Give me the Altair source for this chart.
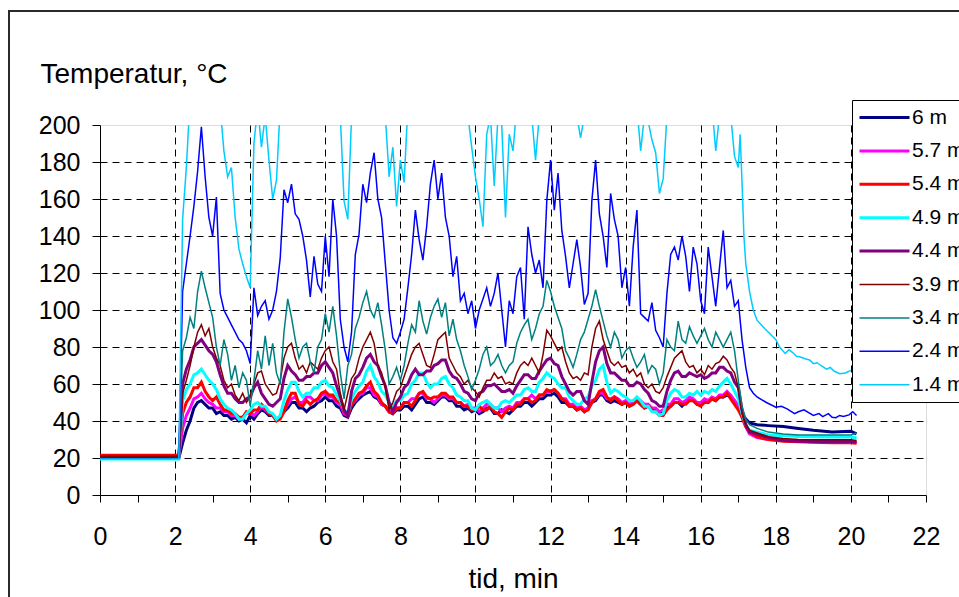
import altair as alt
import pandas as pd

# ---------------- series definitions ----------------
SERIES = ["6 m", "5.7 m", "5.4 m", "4.9 m", "4.4 m", "3.9 m", "3.4 m", "2.4 m", "1.4 m"]
COLORS = ["#000080", "#FF00FF", "#FF0000", "#00FFFF", "#800080", "#800000", "#008080", "#0000FF", "#00CCFF"]
WIDTHS = [3, 3, 3, 3, 3, 1.5, 1.5, 1.5, 1.5]

# flat start (t = 0 .. 2.1 min)
START_T = [0.0, 2.1]
FLAT = [20, 21, 21.5, 19.5, 20.5, 21, 20, 20, 19.5]

# ---- all series sampled every 0.1 min from 2.2 to 17.0 (one line per minute) ----
T6 = [28, 35, 40, 47, 50, 51, 49, 47,
      47, 44, 45, 43, 43, 41, 42, 40, 41, 39,
      43, 41, 44, 46, 45, 43, 43, 41, 42, 45,
      47, 50, 50, 47, 47, 45, 47, 48, 50, 51,
      53, 51, 51, 48, 47, 43, 42, 47, 50, 52,
      54, 55, 56, 53, 52, 49, 48, 45, 44, 46,
      46, 48, 48, 46, 49, 52, 53, 50, 50, 49,
      51, 53, 53, 51, 51, 48, 48, 46, 47, 45,
      46, 44, 45, 47, 47, 44, 44, 46, 45, 44,
      46, 48, 48, 50, 50, 48, 50, 52, 52, 54,
      54, 55, 53, 50, 50, 48, 48, 46, 47, 45,
      47, 50, 51, 54, 54, 51, 50, 51, 50, 49,
      50, 48, 49, 51, 49, 47, 48, 46, 46, 44,
      45, 47, 48, 50, 50, 48, 50, 52, 51, 49,
      49, 51, 50, 52, 51, 53, 53, 54, 53, 51,
      48]
T57 = [36, 43, 47, 52, 53, 55, 52, 50,
       49, 47, 47, 45, 45, 43, 43, 41, 42, 44,
       44, 43, 45, 48, 46, 44, 43, 41, 42, 46,
       49, 52, 53, 50, 50, 53, 53, 51, 51, 54,
       55, 53, 53, 50, 49, 44, 43, 49, 51, 54,
       55, 58, 58, 54, 53, 49, 48, 45, 45, 47,
       47, 50, 50, 52, 52, 55, 55, 52, 52, 50,
       52, 54, 54, 52, 52, 50, 50, 48, 49, 47,
       47, 45, 47, 49, 49, 47, 47, 45, 47, 48,
       47, 50, 50, 52, 52, 54, 52, 54, 54, 56,
       56, 57, 55, 52, 52, 49, 49, 47, 48, 46,
       47, 51, 52, 55, 55, 52, 52, 53, 52, 50,
       51, 49, 50, 52, 51, 49, 49, 47, 47, 45,
       46, 49, 49, 52, 52, 50, 51, 53, 52, 50,
       50, 52, 51, 53, 52, 54, 54, 56, 54, 51,
       48]
T54 = [44, 50, 53, 58, 58, 61, 56, 53,
       51, 53, 49, 46, 46, 44, 44, 42, 42, 45,
       44, 46, 46, 49, 47, 44, 43, 40, 41, 45,
       51, 55, 55, 49, 48, 51, 49, 51, 52, 55,
       56, 54, 54, 51, 50, 45, 43, 49, 52, 55,
       56, 59, 61, 56, 54, 50, 48, 45, 44, 47,
       47, 50, 50, 48, 51, 55, 56, 53, 52, 53,
       53, 55, 55, 53, 53, 50, 50, 48, 48, 46,
       46, 48, 46, 46, 48, 45, 44, 42, 45, 47,
       46, 49, 49, 52, 52, 50, 51, 54, 54, 57,
       56, 57, 55, 52, 51, 48, 48, 46, 47, 45,
       46, 50, 52, 56, 57, 53, 51, 53, 51, 49,
       50, 48, 49, 51, 49, 47, 48, 46, 45, 43,
       43, 46, 48, 50, 50, 49, 49, 51, 51, 49,
       48, 50, 50, 52, 51, 53, 53, 55, 52, 49,
       46]
T49 = [51, 57, 60, 65, 66, 68, 65, 62,
       60, 57, 52, 49, 47, 46, 44, 41, 41, 44,
       46, 49, 50, 48, 48, 45, 44, 41, 43, 51,
       57, 61, 61, 56, 53, 55, 55, 58, 58, 61,
       62, 59, 58, 54, 51, 46, 44, 52, 56, 59,
       61, 67, 70, 64, 61, 56, 54, 50, 48, 51,
       51, 54, 55, 60, 62, 66, 66, 61, 58, 60,
       60, 63, 64, 60, 58, 54, 53, 51, 51, 47,
       46, 49, 50, 51, 49, 47, 47, 50, 51, 50,
       52, 54, 54, 57, 58, 56, 56, 61, 63, 66,
       64, 63, 60, 58, 58, 53, 51, 49, 49, 52,
       53, 59, 62, 68, 70, 61, 55, 57, 56, 54,
       53, 51, 51, 53, 51, 48, 48, 45, 45, 43,
       44, 51, 55, 57, 56, 53, 53, 55, 54, 56,
       54, 56, 55, 57, 56, 59, 61, 63, 60, 56,
       52]
T44 = [60, 68, 73, 80, 82, 84, 81, 78,
       76, 72, 65, 59, 55, 55, 52, 50, 50, 52,
       53, 58, 61, 55, 52, 49, 48, 50, 52, 63,
       70, 67, 65, 62, 62, 64, 64, 66, 66, 70,
       72, 69, 66, 59, 53, 46, 43, 56, 63, 65,
       69, 74, 76, 72, 70, 64, 59, 50, 45, 50,
       53, 58, 60, 65, 68, 65, 65, 67, 67, 70,
       71, 73, 73, 67, 64, 63, 60, 56, 55, 52,
       51, 55, 56, 59, 59, 60, 58, 56, 56, 57,
       55, 59, 62, 65, 65, 63, 63, 67, 70, 73,
       74, 71, 70, 64, 60, 56, 54, 56, 56, 51,
       49, 61, 72, 78, 80, 71, 66, 66, 64, 62,
       62, 59, 59, 61, 60, 57, 55, 51, 50, 48,
       48, 56, 62, 66, 67, 64, 64, 66, 65, 64,
       65, 63, 64, 66, 66, 69, 69, 67, 66, 61,
       58]
T39 = [55, 62, 70, 80, 88, 92, 86, 90,
       80, 74, 70, 62, 58, 60, 54, 51, 55, 50,
       53, 60, 66, 67, 60, 57, 54, 55, 62, 74,
       80, 82, 74, 68, 70, 66, 72, 70, 68, 74,
       78, 80, 72, 68, 55, 46, 55, 63, 66, 74,
       80, 84, 88, 82, 70, 66, 58, 46, 50, 56,
       58, 64, 70, 76, 80, 82, 76, 70, 69, 76,
       84, 86, 88, 74, 70, 66, 64, 60, 62, 58,
       56, 53, 58, 62, 62, 66, 63, 64, 60, 61,
       60, 66, 70, 72, 70, 74, 70, 66, 76, 89,
       86, 82, 78, 80, 72, 66, 63, 64, 62, 66,
       65, 80, 90, 94, 84, 78, 72, 70, 72, 69,
       70, 66, 68, 64, 66, 60, 58, 60, 56, 55,
       58, 64, 69, 74, 76, 78, 72, 69, 70, 66,
       68, 65, 70, 68, 71, 72, 75, 73, 69, 66,
       58]
T34 = [78, 85, 96, 90, 110, 121, 112, 104,
       96, 80, 70, 84, 76, 62, 70, 58, 66, 62,
       48, 62, 78, 68, 86, 70, 82, 66, 60, 88,
       106, 96, 84, 74, 80, 82, 72, 66, 80, 84,
       98, 88, 102, 86, 66, 52, 70, 76, 90, 96,
       104, 110, 100, 96, 104, 92, 78, 60, 64, 69,
       62, 70, 82, 92, 88, 105, 94, 87, 96, 102,
       106, 96, 104, 86, 95, 84, 78, 70, 64, 57,
       62, 68, 76, 80, 70, 72, 76, 70, 66, 70,
       72, 82, 88, 92, 95, 84, 90, 98, 102, 116,
       110, 102, 96, 90, 78, 74, 69, 76, 84, 88,
       95, 102, 111, 102, 94, 86, 80, 88, 84, 74,
       78, 80, 74, 69, 72, 76, 66, 70, 68, 60,
       66, 84, 80, 78, 94, 84, 82, 91, 86, 82,
       86, 90, 84, 80, 88, 84, 80, 84, 88, 78,
       62]
T24 = [110, 125, 140, 156, 175, 199, 172, 150,
       140, 161, 109, 100, 96, 92, 88, 84, 82, 78,
       71, 112, 97, 102, 105, 95, 100, 110, 128, 165,
       158, 168, 152, 149, 140, 127, 107, 129, 114, 110,
       140, 118, 160, 140, 95, 80, 72, 88, 130, 141,
       168, 158, 174, 185, 160, 150, 125, 100, 85, 82,
       88, 95, 112, 130, 154, 138, 127, 145, 168, 181,
       160, 174, 150, 140, 118, 129, 105, 109, 98, 105,
       90, 100, 106, 112, 102, 109, 120, 100, 80, 105,
       98, 118, 123, 95, 145, 130, 120, 127, 112, 159,
       181, 154, 174, 143, 129, 112, 125, 138, 123, 103,
       109, 159, 181, 152, 140, 123, 163, 149, 140, 112,
       123, 102, 134, 154, 98, 96, 94, 104, 89, 85,
       80, 109, 130, 134, 127, 140, 129, 110, 134, 125,
       105, 98, 134, 118, 102, 123, 143, 112, 116, 102,
       105]
T14 = [149, 177, 215, 230, 240, 245, 240, 235,
       230, 222, 210, 186, 172, 177, 150, 133, 125, 118,
       112, 190, 210, 188, 205, 181, 160, 170, 210, 225,
       235, 240, 238, 235, 230, 232, 235, 230, 228, 225,
       230, 225, 222, 215, 205, 159, 149, 205, 215, 222,
       225, 225, 220, 218, 215, 210, 205, 172, 188, 156,
       181, 169, 210, 220, 225, 230, 230, 228, 225, 225,
       222, 220, 218, 220, 222, 220, 215, 208, 205, 188,
       172, 160, 145, 195, 205, 167, 205, 200, 150, 195,
       186, 210, 215, 212, 210, 205, 181, 205, 210, 212,
       215, 210, 212, 215, 212, 210, 212, 205, 193, 205,
       205, 210, 212, 215, 215, 212, 215, 218, 215, 212,
       210, 212, 208, 210, 186, 205, 202, 192, 185, 163,
       171, 205, 210, 215, 218, 215, 212, 215, 212, 210,
       208, 202, 205, 210, 186, 205, 210, 212, 205, 183,
       177]

# ---- cooling tails ----
TAIL_T = [17.1, 17.2, 17.3, 17.5, 17.8, 18.2, 18.6, 19.0, 19.5, 20.0, 20.15]
TAIL_6 = [44, 41, 39, 38, 37.5, 37, 36, 35, 34, 34.5, 33]
TAIL_57 = [42, 37, 33, 31, 30, 29.5, 29, 28.8, 28.6, 28.5, 28.5]
TAIL_54 = [42, 37, 34, 31.6, 30, 29, 28.8, 28.5, 28.3, 28.3, 28]
TAIL_49 = [44, 38, 35, 34, 32.5, 32, 31.6, 31.5, 31.3, 31.3, 31]
TAIL_44 = [46, 38, 34, 33, 31, 29.5, 29, 28.9, 28.9, 28.9, 28.5]
TAIL_39 = [44, 38, 35, 33.5, 31.5, 30.5, 30, 29.8, 29.8, 29.8, 29.5]
TAIL_34 = [48, 41, 38, 36, 34, 33, 32.5, 32.5, 32.5, 32.5, 33.5]
TAIL24_T = [17.1, 17.2, 17.3, 17.4, 17.5, 17.75, 18.0, 18.15, 18.3, 18.5, 18.6, 18.75,
            19.0, 19.15, 19.25, 19.4, 19.5, 19.6, 19.7, 19.8, 19.95, 20.05, 20.15]
TAIL24_V = [84, 69, 58, 55, 53, 50, 47.5, 48, 46.6, 44, 45, 46,
            43, 44, 42.4, 44, 42, 41.8, 43, 42.4, 43.3, 45, 43]
TAIL14_T = [17.05, 17.1, 17.15, 17.2, 17.3, 17.4, 17.5, 17.7, 17.85, 18.0, 18.1, 18.25,
            18.35, 18.45, 18.55, 18.65, 18.8, 18.9, 19.0, 19.1, 19.2, 19.35, 19.45,
            19.55, 19.7, 19.85, 20.0]
TAIL14_V = [195, 169, 140, 125, 110, 100, 94.5, 90, 87, 84, 80, 76.5,
            78.5, 77, 75, 74.6, 73.5, 73, 71, 71.5, 70, 68, 69,
            67, 65.6, 66, 67.4]

MAIN = [(T6, TAIL_T, TAIL_6), (T57, TAIL_T, TAIL_57), (T54, TAIL_T, TAIL_54),
        (T49, TAIL_T, TAIL_49), (T44, TAIL_T, TAIL_44), (T39, TAIL_T, TAIL_39),
        (T34, TAIL_T, TAIL_34), (T24, TAIL24_T, TAIL24_V), (T14, TAIL14_T, TAIL14_V)]

rows = []
for name, flat, (vals, tt, tv) in zip(SERIES, FLAT, MAIN):
    for t in START_T:
        rows.append({"t": t, "v": flat, "series": name})
    for i, v in enumerate(vals):
        rows.append({"t": round(2.2 + 0.1 * i, 3), "v": v, "series": name})
    for t, v in zip(tt, tv):
        rows.append({"t": t, "v": v, "series": name})
df = pd.DataFrame(rows)

FONT = "Liberation Sans"

legend = alt.Legend(
    orient="none", legendX=752, legendY=-25,
    symbolType="M-2,0H8", symbolSize=100,
    labelFont=FONT, labelFontSize=21, labelColor="black",
    labelOffset=32, rowPadding=11.4, padding=7,
    fillColor="white", strokeColor="black", labelLimit=300,
)

x_axis = alt.Axis(
    values=list(range(0, 23)),
    labelExpr="datum.value % 2 == 0 ? datum.label : ''",
    labelOverlap=False, labelFlush=False,
    tickSize=7, tickColor="black", domainColor="black",
    labelFontSize=25, labelPadding=22, labelColor="black", labelFont=FONT,
    grid=True, gridColor="black", gridDash=[7, 5], gridWidth=1,
    gridOpacity={"condition": {"test": "datum.value % 2 == 0 && datum.value > 0 && datum.value < 22", "value": 1}, "value": 0},
    titleFont=FONT, titleFontSize=28, titleFontWeight="normal", titleColor="black",
    titleX=413, titleY=92, titleAlign="center", titleBaseline="alphabetic",
)
y_axis = alt.Axis(
    values=list(range(0, 201, 20)),
    tickSize=8, tickColor="black", domainColor="black",
    labelFontSize=25, labelPadding=12, labelColor="black", labelFont=FONT,
    grid=True, gridColor="black", gridDash=[7, 5], gridWidth=1,
    gridOpacity={"condition": {"test": "datum.value > 0 && datum.value < 200", "value": 1}, "value": 0},
    titleFont=FONT, titleFontSize=28, titleFontWeight="normal", titleColor="black",
    titleAngle=0, titleX=-60, titleY=-43, titleAlign="left", titleBaseline="alphabetic",
)

base = alt.Chart(df).mark_line(clip=True).encode(
    x=alt.X("t:Q", scale=alt.Scale(domain=[0, 22], nice=False, zero=False), axis=x_axis, title="tid, min"),
    y=alt.Y("v:Q", scale=alt.Scale(domain=[0, 200], nice=False), axis=y_axis, title="Temperatur, °C"),
    color=alt.Color("series:N", scale=alt.Scale(domain=SERIES, range=COLORS), legend=legend, title=None),
    strokeWidth=alt.StrokeWidth("series:N", scale=alt.Scale(type="ordinal", domain=SERIES, range=WIDTHS), legend=legend, title=None),
    order=alt.Order("t:Q"),
)

layers = [base.transform_filter(alt.datum.series == s) for s in SERIES]

frame = alt.Chart(pd.DataFrame({"k": [0]})).mark_rect(
    fillOpacity=0, stroke="#2a2a2a", strokeWidth=2
).encode(
    x=alt.value(-91), y=alt.value(-114), x2=alt.value(1000), y2=alt.value(700)
)

chart = alt.layer(frame, *layers).properties(
    width=826, height=370,
    autosize=alt.AutoSizeParams(type="none"),
    padding={"left": 100, "top": 125, "right": 33, "bottom": 102},
    background="white",
).configure_view(stroke="#808080", strokeWidth=1).configure(font=FONT)

chart.save("out.html", embed_options={"renderer": "svg", "actions": False})
